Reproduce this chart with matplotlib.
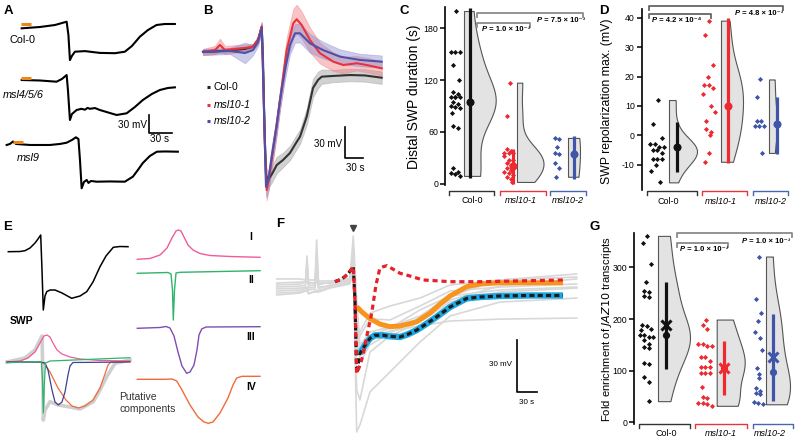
import numpy as np
import matplotlib
matplotlib.use("Agg")
import matplotlib.pyplot as plt
from matplotlib.lines import Line2D

plt.rcParams['font.family'] = ['Liberation Sans', 'DejaVu Sans']
plt.rcParams['axes.unicode_minus'] = False

# ======================= DATA =======================
# Panel A: representative SWP traces (time s, potential mV, relative to baseline)
a_col0_t = [0, 23.9, 43.4, 58.7, 61, 63, 65.6, 69.5, 82.6, 102, 121.7, 134.7, 143.9, 154.3, 164.7, 176, 186.9, 200]
a_col0_v = [0, 2.2, 5.5, 11, -11, -53, -46, -39, -38, -41, -41.5, -39, -29.5, -14, -3, 5.5, 7.2, 7.2]
a_m456_t = [0, 23.9, 45.5, 52.5, 58.7, 60.4, 63, 65.6, 71.7, 78, 82.6, 86, 89.1, 95.6, 102.1, 115.2, 123.9, 137, 147.8, 158.2, 169.9, 180.3, 190.8, 200]
a_m456_v = [0, -0.8, -2.8, 1.7, 8.3, -16.7, -66.7, -56.7, -50, -48, -49.5, -46.5, -48, -46.7, -50, -55, -58.3, -55.5, -45, -33.3, -23.3, -16.7, -13.3, -12.2]
a_msl9_t = [-19.6, -15.3, -11.4, -7.4, 10.8, 36.9, 49.9, 58.7, 65.6, 70.8, 74.1, 76.1, 78.3, 81.3, 84.9, 87.2, 90.5, 97.9, 115.2, 134.7, 145.2, 151.7, 158.2, 167.4, 176.5, 186.9, 203.9]
a_msl9_v = [0, 1.7, 5.8, 1.7, 0, 0, 1.7, 3.8, 8.3, 12.8, 10, -25, -72.2, -61.7, -58.3, -63.3, -60, -61.2, -60.8, -61.2, -52.8, -41.7, -30, -18.3, -11.2, -10.8, -11.2]
a_labels = ["Col-0", "msl4/5/6", "msl9"]

# Panel B: mean traces +/- SEM
b_col0_t = [0, 20, 50, 70, 83.4, 91.7, 97.9, 100, 102.5, 105, 108.4, 115, 122.9, 133.4, 145, 155, 161.7, 172.9, 183.4, 191.7, 197.9, 216.7, 245, 270, 297.9]
b_col0_v = [0, 0.2, 1.6, 2.6, 4.8, 11.3, 24.2, -8, -75.8, -119.4, -124.2, -118.4, -109.7, -104.8, -98, -88.4, -82.3, -62.9, -35.1, -27.4, -24.2, -23.5, -22.6, -23, -25.2]
b_col0_e = [2, 2, 2, 2, 3, 3, 4, 5, 6, 8, 8, 8, 8, 7, 7, 7, 7, 8, 9, 8, 7, 6, 6, 6, 6]
b_m101_t = [0, 20, 28.3, 36.7, 83.4, 91.7, 97.9, 100, 103.4, 106.2, 110, 114.5, 121.7, 128.4, 139.5, 150.5, 156.2, 164.5, 178.3, 195, 217.2, 233.9, 256.2, 272.9, 297.9]
b_m101_v = [-0.3, 1.6, 6.5, 1.6, 4.5, 11.3, 24.2, -17.7, -95.2, -133.9, -122.3, -104.8, -75.9, -46.8, 1.6, 27.5, 31.4, 25.8, 11.3, -1.5, -9.7, -12.9, -11.2, -12.9, -16.1]
b_m101_e = [3, 4, 6, 4, 3, 4, 5, 6, 8, 10, 10, 10, 10, 10, 12, 14, 14, 13, 12, 10, 9, 8, 7, 7, 7]
b_m102_t = [0, 45, 70, 83.4, 91.7, 97.9, 100, 103.4, 105, 109.2, 114.5, 122.9, 128.4, 136.7, 145, 153.4, 161.7, 178.3, 200, 228.4, 261.7, 297.9]
b_m102_v = [-0.3, 0.7, -1.3, 1.6, 9.4, 22.7, -17.7, -95.2, -130.7, -124.2, -101.6, -71, -46.8, -17.7, 6.5, 17.8, 17.8, 8.1, 1.6, -4.8, -8, -9.7]
b_m102_e = [3, 3, 10, 5, 4, 5, 6, 8, 10, 10, 10, 9, 9, 9, 9, 9, 9, 9, 8, 7, 6, 6]
genotypes = ["Col-0", "msl10-1", "msl10-2"]

# Panel C: distal SWP duration (s)
c_col0 = [200, 152, 152, 152, 138, 120, 106, 104, 100, 100, 100, 100, 95, 92, 90, 89, 88, 82, 67, 64, 18, 14, 12, 11, 9]
c_m101 = [117, 78, 40, 38, 35, 35, 35, 32, 28, 28, 24, 22, 18, 16, 13, 12, 10, 8, 5, 2]
c_m102 = [53, 52, 43, 35, 34, 24, 18, 8]
c_center = [95, 21, 34]
c_lo = [6, 0, 5]
c_hi = [203, 40, 55]
c_pvals = ["1.0 × 10⁻³", "7.5 × 10⁻³"]

# Panel D: SWP repolarization max (mV)
d_col0 = [12, 4, -1, -3, -3, -4, -4, -5, -5, -6, -8, -8, -8, -10, -12, -16]
d_m101 = [39, 34, 24, 20, 17, 17, 16, 14, 10, 8, 5, 2, 1, 0, -6, -9]
d_m102 = [19, 13, 5, 5, 3, 3, 3, -6]
d_center = [-4, 10, 4]
d_lo = [-12.5, -9.5, -6.5]
d_hi = [4.5, 40, 13]
d_pvals = ["4.2 × 10⁻⁴", "4.8 × 10⁻³"]

# Panel E: schematic SWP and putative components (arbitrary units)
e_swp_t = [0, 11.7, 16.7, 21.7, 26.7, 29.7, 32.4, 33.7, 35, 36.7, 38.4, 41.7, 46.7, 53.7, 63.4, 71.7, 78.4, 84.7, 91.7, 97.7, 105, 111.7, 119.7]
e_swp_v = [0, 0.2, 1, 3.7, 8.7, 12.7, 16.7, -18.3, -58.3, -44.3, -40, -38.3, -38.3, -41.3, -46.6, -44.3, -40, -30.3, -15, -4.3, 4.4, 5.2, 5]
e_ov_sum_t = [0, 18, 28, 33, 35, 36, 36.3, 38, 43, 51.3, 63, 73, 86.3, 93, 99.7, 108, 123]
e_ov_sum_v = [-0.3, 3.7, 11.7, 21.7, 25.7, -18.3, -58.3, -48.3, -40, -43.3, -45.3, -47.3, -40, -28.3, -15, -1.6, 1.7]
e_ov_I_t = [0, 13, 21, 28, 33, 37, 40, 43, 46, 50, 55, 63, 73, 93, 123]
e_ov_I_v = [-0.3, 0.7, 3.7, 9.7, 18.7, 25.7, 26.7, 24.7, 18.7, 11.7, 7.7, 4.7, 2.7, 1.2, 0.7]
e_ov_II_t = [0, 33, 34.5, 35.5, 36.3, 37.3, 38.5, 43, 123]
e_ov_II_v = [-1, 0.2, -1.3, -18.3, -51.3, -23.3, -1.3, 0.7, 4]
e_ov_III_t = [0, 33, 38, 41, 45, 48, 51.3, 55, 58, 61, 63, 66, 123]
e_ov_III_v = [-0.3, -0.3, -1.3, -8.3, -28.3, -40.3, -43.3, -40.3, -30.3, -13.3, -4.3, -0.8, -0.3]
e_ov_IV_t = [0, 33, 37, 43, 51, 59, 65, 71.3, 78, 86, 93, 98, 101, 104, 123]
e_ov_IV_v = [-0.3, -0.3, -1.3, -10.3, -26.3, -38.3, -44.3, -46.3, -44.3, -38.3, -26.3, -12.3, -3.3, -0.3, 0.2]
e_I_t = [0, 12.7, 22.7, 29.7, 34.7, 38.7, 41, 43.7, 46.7, 50.7, 55.7, 62.7, 72.7, 92.7, 122.7]
e_I_v = [0, 0.8, 4.3, 11.3, 21.3, 28.3, 29.3, 28.3, 22.3, 14.3, 9.3, 5.8, 3.8, 2.8, 2]
e_II_t = [0, 30.7, 33.7, 35.2, 36, 37.2, 38.7, 42.7, 122.7]
e_II_v = [0, 0.8, -0.7, -16.7, -46.7, -16.7, 0.3, 1, 2.6]
e_III_t = [0, 22.7, 28.7, 32.7, 36.7, 40.7, 44.7, 49.4, 52.7, 56.7, 59.7, 61.7, 64.4, 68.7, 122.7]
e_III_v = [0, 0.8, 1.8, 0.3, -7.7, -23.7, -37.7, -45, -43.7, -36.7, -21.7, -6.7, -0.7, 1.3, 1.6]
e_IV_t = [0, 27.7, 34.7, 39.4, 44.7, 52.7, 60.7, 66.7, 71, 75.7, 82.7, 90.7, 95.7, 99.4, 104.7, 122.7]
e_IV_v = [0, 0, 0.3, -1.7, -10.7, -25.7, -37.7, -42.7, -44, -42.7, -33.7, -18.7, -5.7, 1.3, 3, 3]
e_comp_names = ["I", "II", "III", "IV"]

# Panel F: recorded traces (gray) and model fits (s, mV)
f_gray_t = [0, 35.4, 43.8, 46.1, 48.3, 58.2, 60.8, 63.5, 81, 111.4, 116.4, 121.6, 126.6, 141.8, 172.2, 217.8, 263.5, 339.4, 456]
f_gray_1 = [-0.8, -0.2, -0.2, 14.9, -0.2, -0.8, 24.2, -0.8, -0.8, 2.1, 26.5, -10.6, -36.7, -29.2, -26.3, -19.9, -8.3, 1, 4.5]
f_gray_2 = [-3.1, -2.5, -1.9, 6.8, -2.5, -1.9, 18.4, -1.9, -0.2, 1, 17.2, -28, -46.6, -36.7, -29.8, -21.1, -10.6, -2.5, 1.6]
f_gray_3 = [-5.4, -4.8, -3.7, -3.7, -4.8, -4.2, 3.9, -4.2, -1.9, -0.2, 11.4, -62.8, -68.6, -40.8, -31.5, -23.4, -11.8, -6, -3.7]
f_gray_4 = [-7.7, -6.6, -5.4, -5.4, -6.6, -6, -6, -6, -3.7, -1.3, 7.9, -87.2, -83.1, -64, -52.4, -35, -19.9, -11.8, -9.5]
f_gray_5 = [1.6, 1.6, 1, 11.4, 1, 1, 13.7, 0.4, 0.4, 1.6, 20.7, -40.8, -29.2, -18.2, -14.1, -9.5, -1.9, 1, 2.7]
f_gray_6 = [-1.9, -1.3, -0.2, -0.8, -1.3, -0.8, -0.2, -0.8, -0.8, 0.4, 13.7, -28, -39.6, -33.2, -28.6, -25.7, -22.8, -21.7, -21.1]
f_gray_7 = [-4.2, -3.7, -3.1, -3.1, -3.7, -3.1, 7.9, -3.1, -2.5, -0.8, 18.4, -23.4, -31.5, -21.6, -22.2, -14.1, -5.4, -3.1, -1.3]
f_gray_8 = [-6.6, -6, -4.8, -4.8, -7.1, -5.4, -4.8, -5.4, -3.1, -0.8, 9.7, -35, -37.3, -31.5, -26.9, -16.4, -8.3, -4.8, -3.1]
f_black_t = [88.6, 99.3, 108.4, 116.4, 119, 121.6, 123.6, 126.6, 134.2, 141.8, 149.4, 161.6, 172.2, 187.4, 199.6, 212.8, 227, 243.2, 263.5, 288.8, 309, 339.4, 385, 435.2]
f_black_v = [0, 1.6, 4.5, 8.7, -10.6, -53.2, -48.5, -41.6, -36.9, -32.9, -31.1, -31.1, -31.7, -32.1, -30.5, -28.1, -24.6, -20.4, -14.7, -9.7, -8.9, -8.3, -8, -8]
f_cyan_t = [126.6, 134.2, 141.8, 149.4, 161.6, 172.2, 187.4, 199.6, 212.8, 227, 243.2, 263.5, 288.8, 309, 339.4, 385, 435.2]
f_cyan_v = [-41.6, -36.9, -32.9, -31.1, -31.1, -31.7, -32.1, -30.5, -28.1, -24.6, -20.4, -14.7, -9.7, -8.9, -8.3, -8, -8]
f_orange_t = [121.6, 129.7, 141.8, 157, 172.2, 187.4, 199.6, 212.8, 233, 248.2, 263.5, 288.8, 309, 339.4, 435.2]
f_orange_v = [-14.5, -17.6, -21.4, -24.6, -26.1, -25.7, -24.6, -23.2, -18.2, -13, -8.3, -2.9, -1.3, -0.6, -0.6]
f_red_t = [88.6, 99.3, 108.4, 116.4, 119, 121.6, 126.6, 131.2, 137.2, 144.4, 150.9, 156.9, 161.9, 167.6, 176.7, 187.4, 202.6, 222.4, 248.2, 263.5, 313.7, 435.2]
f_red_v = [0, 1.6, 4.5, 8.7, -10.6, -53.2, -48.5, -42.7, -31.1, -18.4, -1.9, 7.9, 8.7, 9.3, 7.3, 4.9, 3.3, 1, 0.4, 0, 0, 1]

# Panel G: fold enrichment of JAZ10 transcripts
g_col0 = [361, 348, 306, 272, 255, 253, 245, 242, 188, 186, 180, 179, 169, 169, 166, 166, 159, 152, 145, 143, 115, 113, 87, 79, 41]
g_m101 = [199, 188, 180, 152, 151, 148, 148, 126, 126, 118, 108, 108, 108, 95, 95, 95, 69, 50, 48, 38, 37, 36, 32]
g_m102 = [321, 239, 211, 196, 174, 163, 140, 105, 94, 85, 67, 61, 56, 55, 40, 38, 35]
g_center = [169, 105, 98]
g_xmark = [188, 105, 126]
g_lo = [103, 52, 42]
g_hi = [272, 158, 210]
g_pvals = ["1.0 × 10⁻³", "1.0 × 10⁻³"]

# ======================= LAYOUT HELPERS =======================
W, H = 796, 438
fig = plt.figure(figsize=(W / 100, H / 100), dpi=100)

def box(x0, y0, x1, y1):
    return [x0 / W, 1 - y1 / H, (x1 - x0) / W, (y1 - y0) / H]

def T(x, y, s, **kw):
    kw.setdefault('va', 'center')
    return fig.text(x / W, 1 - y / H, s, **kw)

def L(xs, ys, **kw):
    fig.add_artist(Line2D([x / W for x in xs], [1 - y / H for y in ys],
                          transform=fig.transFigure, **kw))

BLACK, RED, BLUE = '#111111', '#ee2a30', '#3f55a8'
GCOL = ['#333333', '#e8353a', '#4a66b3']

def letter(x, y, s):
    T(x, y, s, fontsize=9.5, fontweight='bold', va='baseline')

# ======================= PANEL A =======================
axA = fig.add_axes(box(0, 0, 200, 210))
axA.axis('off')
axA.set_xlim(-28.3, 232.8)
axA.set_ylim(-302.9, 47.2)
a_off = [0, -86.2, -194.5]
for (t, v), off in zip([(a_col0_t, a_col0_v), (a_m456_t, a_m456_v), (a_msl9_t, a_msl9_v)], a_off):
    axA.plot(t, np.asarray(v) + off, color='black', lw=1.5, solid_joinstyle='round')
for (t0, t1, dv), off in zip([(-1.3, 12.1, 6.7), (-1.3, 12.1, 3.9), (-11.7, 1.3, 5.5)], a_off):
    axA.plot([t0, t1], [off + dv, off + dv], color='#e8891b', lw=2.2, solid_capstyle='butt')
axA.plot([166, 166, 196], [-144.5, -174.5, -174.5], color='black', lw=1.2)
T(147, 125, "30 mV", fontsize=7.2, ha='right')
T(160, 139.5, "30 s", fontsize=7.2, ha='center')
T(9, 40, a_labels[0], fontsize=7.8)
T(3, 95, a_labels[1], fontsize=7.8, style='italic')
T(17, 158, a_labels[2], fontsize=7.8, style='italic')
letter(4, 14, "A")

# ======================= PANEL B =======================
axB = fig.add_axes(box(200, 0, 400, 210))
axB.axis('off')
axB.set_xlim(-5, 328.4)
axB.set_ylim(-153.2, 50.0)
b_series = [(b_col0_t, b_col0_v, b_col0_e, '#333333', '#9a9a9a'),
            (b_m101_t, b_m101_v, b_m101_e, '#e8323c', '#f07c80'),
            (b_m102_t, b_m102_v, b_m102_e, '#5050a8', '#8d8fd2')]
for t, v, e, c, fc in b_series:
    t = np.asarray(t); v = np.asarray(v); e = np.asarray(e)
    axB.fill_between(t, v - e, v + e, facecolor=fc, alpha=0.45, edgecolor=fc, lw=0.6)
for t, v, e, c, fc in b_series:
    axB.plot(t, v, color=c, lw=1.5, solid_joinstyle='round')
axB.plot([236.7, 236.7, 266.7], [-72.9, -102.9, -102.9], color='black', lw=1.2)
T(342, 144, "30 mV", fontsize=7, ha='right')
T(355, 168, "30 s", fontsize=7, ha='center')
for yy, name, c, st in zip([87.3, 105, 120.7], genotypes, ['#222222', '#e8323c', '#4a4aa8'],
                           ['normal', 'italic', 'italic']):
    L([206.7, 210.2], [yy, yy], color=c, lw=2.2, solid_capstyle='butt')
    T(213.5, yy, name, fontsize=7.5, style=st)
letter(203, 14, "B")

# ======================= DISTRIBUTION PANELS =======================
def swarm_x(vals, x0, x1, ppu, tol=4.2, step=4.5):
    vals = np.asarray(vals, float)
    order = np.argsort(-vals, kind='stable')
    maxrow = int((x1 - x0) // step) + 1
    rows, cur = [], [order[0]]
    for i in order[1:]:
        if abs(vals[i] - vals[cur[0]]) * ppu < tol and len(cur) < maxrow:
            cur.append(i)
        else:
            rows.append(cur); cur = [i]
    rows.append(cur)
    singles = [0.55, 0.3, 0.75, 0.45, 0.2, 0.65, 0.9, 0.35, 0.6]
    xs = np.zeros(len(vals)); si = 0
    for r in rows:
        k = len(r)
        if k == 1:
            xs[r[0]] = x0 + singles[si % len(singles)] * (x1 - x0); si += 1
        else:
            sp = min(step, (x1 - x0) / (k - 1))
            c = (x0 + x1) / 2
            for j, idx in enumerate(r):
                xs[idx] = c + (j - (k - 1) / 2) * sp
    return xs

def half_violin(ax, vals, xl, base, extra):
    v = np.asarray(vals, float)
    h = v.std(ddof=1) * len(v) ** (-0.2)
    grid = np.linspace(v.min(), v.max(), 200)
    dens = np.exp(-0.5 * ((grid[:, None] - v[None, :]) / h) ** 2).sum(1)
    w = base + extra * dens / dens.max()
    ax.fill_betweenx(grid, xl, xl + w, facecolor='#e3e3e3', edgecolor='#555555', lw=0.8, zorder=1)

def dist_axes(rect, ylim, yticks, ppu):
    ax = fig.add_axes(box(*rect))
    ax.set_xlim(0, rect[2] - rect[0])
    ax.set_ylim(*ylim)
    for s in ['top', 'right', 'bottom']:
        ax.spines[s].set_visible(False)
    ax.spines['left'].set_linewidth(1.2)
    ax.set_xticks([])
    ax.set_yticks(yticks)
    ax.tick_params(axis='y', labelsize=6.3, length=3.5, width=1.1, pad=1.5)
    return ax

def draw_groups(ax, data, lay, ppu, centers, lo, hi, xmarks=None, dot=5.8):
    cols = [BLACK, RED, BLUE]
    for i, (vals, (p0, p1, vl, base, extra, lx)) in enumerate(zip(data, lay)):
        half_violin(ax, vals, vl, base, extra)
        xs = swarm_x(vals, p0, p1, ppu)
        ax.plot(xs, vals, 'D', ms=2.6, color=cols[i], mec='none', zorder=2)
        ax.plot([lx, lx], [lo[i], hi[i]], color=cols[i], lw=2.3, solid_capstyle='butt', zorder=3)
        ax.plot([lx], [centers[i]], 'o', ms=dot, color=cols[i], mec='none', zorder=4)
        if xmarks is not None:
            ax.plot([lx], [xmarks[i]], 'x', ms=7, mew=2.2, color=cols[i], zorder=5)

def group_brackets(spans, ytop, label_x, label_y):
    for (x0, x1), c, name, lxx in zip(spans, GCOL, genotypes, label_x):
        L([x0, x0, x1, x1], [ytop + 4.3, ytop, ytop, ytop + 4.3], color=c, lw=1.0)
        T(lxx, label_y, name, fontsize=6.5, ha='center', style='normal' if name == 'Col-0' else 'italic')

def sig(x0, x1, y, txt, tx, ty, c='#8a8a8a'):
    L([x0, x0, x1, x1], [y + 4, y, y, y + 4], color=c, lw=1.3)
    T(tx, ty, "P", fontsize=5.5, fontweight='bold', style='italic')
    T(tx + 5.2, ty, " = " + txt, fontsize=5.5, fontweight='bold')

# ---- C ----
axC = dist_axes((445, 6.7, 592, 185.4), (-2, 205), [0, 60, 120, 180], 0.8633)
draw_groups(axC, [c_col0, c_m101, c_m102],
            [(4, 17, 19, 6.7, 25, 25), (58, 70, 72, 3.5, 23, 68), (107, 117, 123, 9, 3, 129)],
            0.8633, c_center, c_lo, c_hi)
axC.set_ylabel("Distal SWP duration (s)", fontsize=10)
axC.yaxis.set_label_coords(-0.163, 0.495)
group_brackets([(449, 494), (500, 546), (550, 586)], 190.7, [472, 521, 567.5], 200.7)
sig(477, 583, 13.3, c_pvals[1], 536.7, 20.5)
sig(477, 530, 23.3, c_pvals[0], 482, 29.3)
letter(400, 14, "C")

# ---- D ----
axD = dist_axes((641.7, 8.9, 792, 190), (-18.6, 43), [-10, 0, 10, 20, 30, 40], 2.94)
draw_groups(axD, [d_col0, d_m101, d_m102],
            [(5.3, 25.3, 27.3, 4, 24, 35.3), (58.3, 75.3, 79.3, 4, 18, 86.3), (111.3, 123.3, 127.3, 4.5, 4, 135.3)],
            2.94, d_center, d_lo, d_hi)
axD.set_ylabel("SWP repolarization max. (mV)", fontsize=8.8)
axD.yaxis.set_label_coords(-0.191, 0.49)
group_brackets([(647, 697), (702, 747), (753, 788)], 190.7, [668.5, 721, 771], 201.7)
sig(649, 783, 6, d_pvals[1], 735, 13.3, c='#666666')
sig(649, 711, 14, d_pvals[0], 652, 21, c='#666666')
letter(599, 14, "D")

# ---- G ----
axG = dist_axes((634.3, 233.3, 796, 423.9), (-3, 366), [0, 100, 200, 300], 0.5165)
draw_groups(axG, [g_col0, g_m101, g_m102],
            [(3.7, 20.7, 23.7, 7, 25, 31.4), (62.7, 78.7, 82.4, 10, 18, 89.7), (118.7, 128.7, 131.7, 4, 20, 138.4)],
            0.5165, g_center, g_lo, g_hi, xmarks=g_xmark, dot=5.2)
axG.set_ylabel("Fold enrichment of $\\it{JAZ10}$ transcripts", fontsize=8.1)
axG.yaxis.set_label_coords(-0.128, 0.5)
group_brackets([(639, 690), (695, 747), (753, 793)], 424, [666.7, 721.3, 770], 433.3)
sig(677, 792, 233.3, g_pvals[1], 741.7, 241.7)
sig(677, 728, 243.3, g_pvals[0], 680, 249.3)
letter(589, 230, "G")

# ======================= PANEL E =======================
axE = fig.add_axes(box(0, 225, 262, 438))
axE.axis('off')
axE.set_xlim(0, 262)
axE.set_ylim(-438, -225)

def eplot(t, v, x0, y0, **kw):
    axE.plot(np.asarray(t) + x0, np.asarray(v) - y0, **kw)

PINK, GREEN, PURP, NAVY, ORNG = '#ef5b9c', '#2fb36d', '#7e4db3', '#404090', '#f26a3b'
eplot(e_swp_t, e_swp_v, 8.3, 251.7, color='black', lw=1.1)
eplot(e_ov_sum_t, e_ov_sum_v, 7, 361.7, color='#cfcfcf', lw=2.6)
eplot(e_ov_I_t, e_ov_I_v, 7, 361.7, color=PINK, lw=0.9)
eplot(e_ov_IV_t, e_ov_IV_v, 7, 361.7, color=ORNG, lw=0.9)
eplot(e_ov_III_t, e_ov_III_v, 7, 361.7, color=NAVY, lw=0.9)
eplot(e_ov_II_t, e_ov_II_v, 7, 361.7, color=GREEN, lw=0.9)
for (t, v), y0, c in zip([(e_I_t, e_I_v), (e_II_t, e_II_v), (e_III_t, e_III_v), (e_IV_t, e_IV_v)],
                         [259.3, 273.3, 328.3, 379.3], [PINK, GREEN, PURP, ORNG]):
    eplot(t, v, 137.3, y0, color=c, lw=1.0)
for name, yy in zip(e_comp_names, [236.7, 280, 336.7, 386.7]):
    T(251, yy, name, fontsize=7.5, fontweight='bold', ha='center')
T(10, 320.7, "SWP", fontsize=7.5, fontweight='bold')
T(119.3, 397, "Putative", fontsize=7.5, color='#333333')
T(119.3, 408.5, "components", fontsize=7.5, color='#333333')
letter(3, 230, "E")

# ======================= PANEL F =======================
axF = fig.add_axes(box(262, 225, 590, 438))
axF.axis('off')
axF.set_xlim(-22.3, 476.2)
axF.set_ylim(-90.7, 32.9)
for g in [f_gray_1, f_gray_2, f_gray_3, f_gray_4, f_gray_5, f_gray_6, f_gray_7, f_gray_8]:
    axF.plot(f_gray_t, g, color='#d8d8d8', lw=1.2, zorder=1)
axF.plot(f_orange_t, f_orange_v, color='#f7941d', lw=3.6, zorder=2, solid_capstyle='butt')
axF.plot(f_cyan_t, f_cyan_v, color='#1ea7e1', lw=4.6, zorder=2, solid_capstyle='butt')
axF.plot(f_black_t, f_black_v, color='#1a1a1a', lw=2.3, ls=(0, (1.6, 1.0)), zorder=3)
axF.plot(f_red_t, f_red_v, color='#e8202a', lw=2.3, ls=(0, (1.6, 1.2)), zorder=4)
axF.plot([365.7, 365.7, 395.7], [-33.8, -63.8, -63.8], color='black', lw=1.2)
T(512, 364, "30 mV", fontsize=5.8, ha='right')
T(527, 403, "30 s", fontsize=5.8, ha='center')
L([353.3], [227.5], marker='v', ms=4.5, color='#444444', lw=0)
letter(276, 227, "F")

fig.savefig("out.png", dpi=100)
